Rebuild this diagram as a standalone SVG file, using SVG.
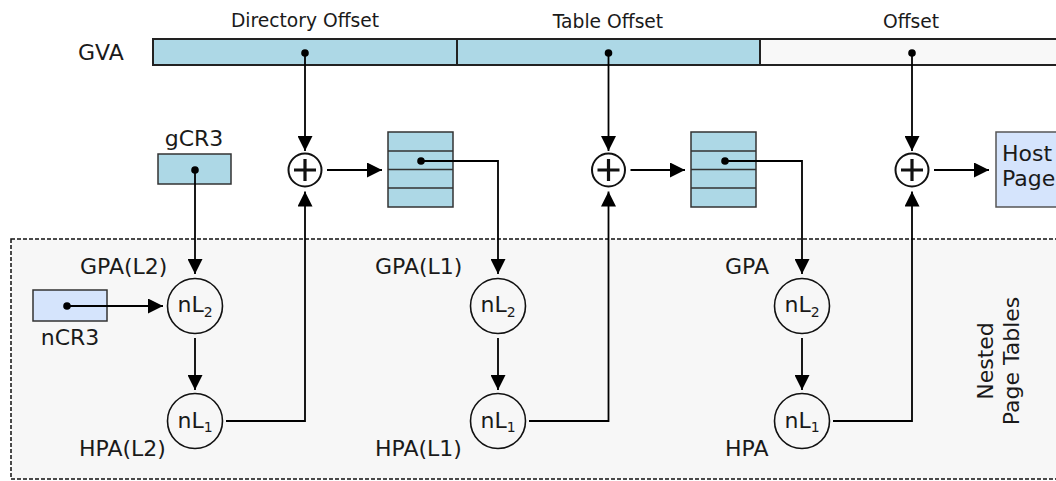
<svg xmlns="http://www.w3.org/2000/svg" width="1056" height="481" viewBox="0 0 1056 481">
<style>
text{font-family:"DejaVu Sans","Liberation Sans",sans-serif;fill:#1a1a1a}
.big{font-size:22px}
.hdr{font-size:18.7px}
.sub{font-size:14px}
.conn{fill:none;stroke:#000;stroke-width:1.8}
.arr{marker-end:url(#ah)}
.bar{stroke:#222;stroke-width:2}
.box{stroke:#333;stroke-width:1.5}
.row{stroke:#333;stroke-width:1.5;fill:none}
.nl{fill:none;stroke:#111;stroke-width:1.6}
.plus{fill:#fff;stroke:#111;stroke-width:2}
.plusx{stroke:#111;stroke-width:3.2}
.dot{fill:#000}
.blue{fill:#add8e6}
.pale{fill:#d5e4fc}
</style>
<defs>
<marker id="ah" viewBox="0 0 10 10" refX="10" refY="5" markerWidth="15" markerHeight="15" markerUnits="userSpaceOnUse" orient="auto">
<path d="M0,0 L10,5 L0,10 z" fill="#000"/>
</marker>
</defs>
<g id="nested-region">
<rect x="11" y="239" width="1070" height="240" fill="#f7f7f7" stroke="#111" stroke-width="1.5" stroke-dasharray="4,2"/>
<text class="big" transform="translate(993,361) rotate(-90)" text-anchor="middle">Nested</text>
<text class="big" transform="translate(1019,361) rotate(-90)" text-anchor="middle">Page Tables</text>
</g>
<g id="gva">
<text class="big" x="78" y="60">GVA</text>
<rect class="bar blue" x="153" y="39" width="304" height="26"/>
<rect class="bar blue" x="457" y="39" width="303" height="26"/>
<rect class="bar" x="760" y="39" width="310" height="26" fill="#f8f8f8"/>
<text class="hdr" x="305" y="27" text-anchor="middle">Directory Offset</text>
<text class="hdr" x="608" y="28" text-anchor="middle">Table Offset</text>
<text class="hdr" x="911" y="28" text-anchor="middle">Offset</text>
<circle class="dot" cx="305" cy="53" r="3.8"/>
<circle class="dot" cx="608.5" cy="53" r="3.8"/>
<circle class="dot" cx="912" cy="53" r="3.8"/>
</g>
<g id="gcr3">
<text class="big" x="194" y="146" text-anchor="middle">gCR3</text>
<rect class="box blue" x="158" y="154" width="73" height="30"/>
<circle class="dot" cx="195" cy="170" r="3.8"/>
</g>
<g id="ncr3">
<rect class="box pale" x="33" y="290" width="74" height="31"/>
<circle class="dot" cx="67" cy="306" r="3.8"/>
<text class="big" x="70" y="345" text-anchor="middle">nCR3</text>
</g>
<g id="plus1">
<circle class="plus" cx="305" cy="170" r="16.5"/>
<path class="plusx" d="M294,170 H316 M305,159 V181"/>
</g>
<g id="plus2">
<circle class="plus" cx="608.5" cy="170" r="16.5"/>
<path class="plusx" d="M597.5,170 H619.5 M608.5,159 V181"/>
</g>
<g id="plus3">
<circle class="plus" cx="912" cy="170" r="16.5"/>
<path class="plusx" d="M901,170 H923 M912,159 V181"/>
</g>
<g id="table1">
<rect class="box blue" x="388" y="132" width="65" height="75"/>
<path class="row" d="M388,151 H453 M388,169.5 H453 M388,188 H453"/>
<circle class="dot" cx="421" cy="161" r="3.8"/>
</g>
<g id="table2">
<rect class="box blue" x="691" y="132" width="65" height="75"/>
<path class="row" d="M691,151 H756 M691,169.5 H756 M691,188 H756"/>
<circle class="dot" cx="725" cy="161" r="3.8"/>
</g>
<g id="host-page">
<rect x="996" y="132" width="80" height="75" fill="#d5e4fc" stroke="#555" stroke-width="1.5"/>
<text class="big" x="1002" y="160.5">Host</text>
<text class="big" x="1002" y="186">Page</text>
</g>
<g id="col1">
<text class="big" x="80" y="274">GPA(L2)</text>
<circle class="nl" cx="195" cy="306" r="27.5"/>
<text class="big" x="195" y="312" text-anchor="middle">nL<tspan class="sub" dy="4.5">2</tspan></text>
<circle class="nl" cx="195" cy="421" r="27.5"/>
<text class="big" x="195" y="428" text-anchor="middle">nL<tspan class="sub" dy="3.5">1</tspan></text>
<text class="big" x="79" y="456">HPA(L2)</text>
</g>
<g id="col2">
<text class="big" x="375" y="274">GPA(L1)</text>
<circle class="nl" cx="498" cy="306" r="27.5"/>
<text class="big" x="498" y="312" text-anchor="middle">nL<tspan class="sub" dy="4.5">2</tspan></text>
<circle class="nl" cx="498" cy="421" r="27.5"/>
<text class="big" x="498" y="428" text-anchor="middle">nL<tspan class="sub" dy="3.5">1</tspan></text>
<text class="big" x="375" y="456">HPA(L1)</text>
</g>
<g id="col3">
<text class="big" x="725" y="274">GPA</text>
<circle class="nl" cx="802" cy="306" r="27.5"/>
<text class="big" x="802" y="312" text-anchor="middle">nL<tspan class="sub" dy="4.5">2</tspan></text>
<circle class="nl" cx="802" cy="421" r="27.5"/>
<text class="big" x="802" y="428" text-anchor="middle">nL<tspan class="sub" dy="3.5">1</tspan></text>
<text class="big" x="725" y="456">HPA</text>
</g>
<g id="connectors">
<path class="conn arr" d="M305,53 V151"/>
<path class="conn arr" d="M608.5,53 V151"/>
<path class="conn arr" d="M912,53 V151"/>
<path class="conn arr" d="M195,170 V274"/>
<path class="conn arr" d="M67,306 H163"/>
<path class="conn arr" d="M195,338 V390"/>
<path class="conn arr" d="M498,338 V390"/>
<path class="conn arr" d="M802,338 V390"/>
<path class="conn arr" d="M226,421 H305 V191.5"/>
<path class="conn arr" d="M529,421 H608.5 V191.5"/>
<path class="conn arr" d="M833,421 H912 V191.5"/>
<path class="conn arr" d="M327,170 H382"/>
<path class="conn arr" d="M630.5,170 H685"/>
<path class="conn arr" d="M934,170 H989"/>
<path class="conn arr" d="M421,161 H498 V274"/>
<path class="conn arr" d="M725,161 H802 V274"/>
</g>
</svg>
